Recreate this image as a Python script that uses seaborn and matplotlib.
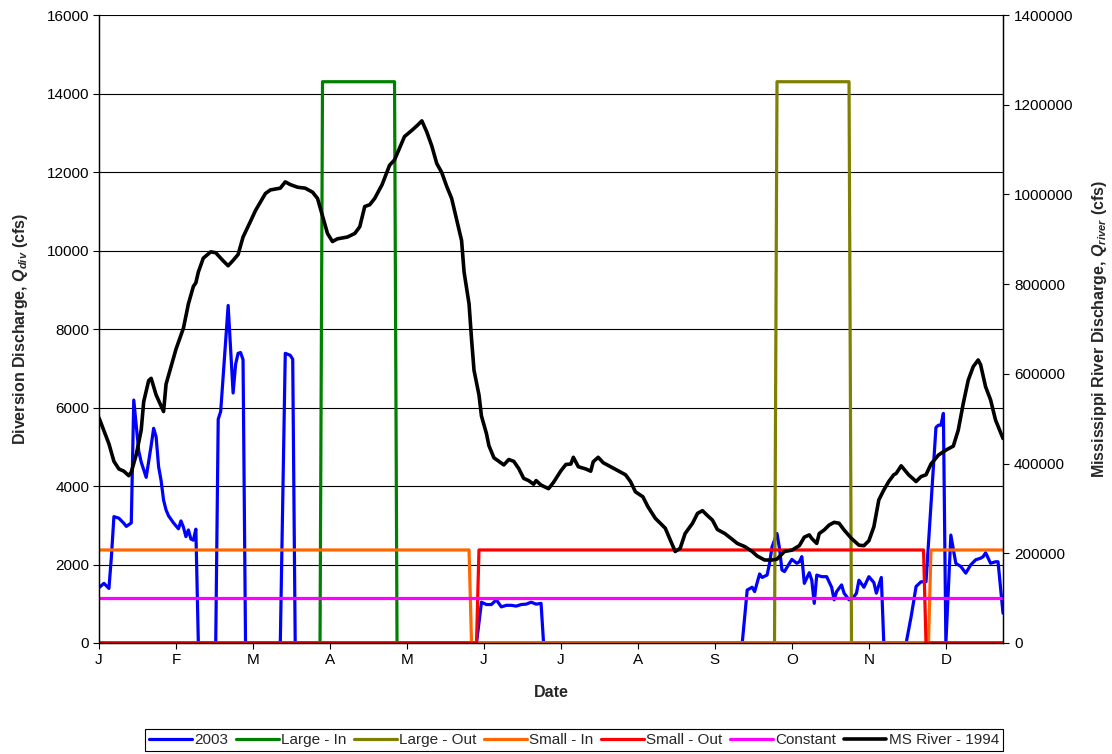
import numpy as np
import pandas as pd
import seaborn as sns
import matplotlib.pyplot as plt

# Month tick labels (ticks every 31 days on a 365-day axis)
month_labels = ["J", "F", "M", "A", "M", "J", "J", "A", "S", "O", "N", "D"]
month_days = [0, 31, 62, 93, 124, 155, 186, 217, 248, 279, 310, 341]

# 2003 diversion discharge (cfs)
days_2003 = [0, 2, 4, 5, 6, 8, 10, 11, 13, 14, 16, 17, 19, 21, 22, 23, 24, 25, 26, 27, 28, 30,
             32, 33, 34, 35, 36, 37, 38, 39, 40, 47, 48, 49, 52, 54, 55, 56, 57, 58, 59,
             73, 75, 77, 78, 79,
             152, 154, 156, 158, 160, 162, 164, 166, 168, 170, 172, 174, 176, 178, 179,
             259, 261, 263, 264, 266, 267, 269, 270, 271, 272, 273, 274, 275, 276, 278, 279,
             281, 282, 283, 284, 286, 287, 288, 289, 291, 293, 295, 296, 297, 299, 300, 302,
             304, 305, 306, 308, 310, 312, 313, 315, 316,
             325, 327, 328, 329, 331, 333, 337, 338, 339, 340, 341, 343, 345, 347, 349, 351,
             353, 355, 356, 357, 359, 361, 362, 364]
q_2003 = [1410, 1520, 1390, 2200, 3220, 3180, 3050, 2970, 3060, 6190, 4890, 4610, 4220, 5030,
          5470, 5250, 4490, 4140, 3640, 3390, 3240, 3060, 2910, 3110, 2950, 2710, 2880, 2650,
          2620, 2900, 0, 0, 5700, 5900, 8600, 6370, 7100, 7380, 7400, 7220, 0,
          0, 7380, 7330, 7230, 0,
          0, 1040, 980, 980, 1100, 920, 960, 960, 940, 980, 990, 1040, 990, 1010, 0,
          0, 1350, 1420, 1310, 1760, 1670, 1730, 2030, 2450, 2620, 2790, 2410, 1860, 1820,
          2030, 2130, 2030, 2070, 2200, 1520, 1790, 1600, 1010, 1730, 1690, 1690, 1420, 1100,
          1310, 1480, 1270, 1100, 1180, 1270, 1600, 1420, 1690, 1540, 1270, 1670, 0,
          0, 670, 1050, 1440, 1560, 1560, 5490, 5550, 5550, 5850, 0, 2750, 2030, 1950, 1780,
          1990, 2120, 2160, 2200, 2300, 2030, 2070, 2070, 760]

# Step-type operating scenarios (cfs)
large_in_days = [0, 89, 90, 119, 120, 364]
large_in_q = [0, 0, 14300, 14300, 0, 0]
large_out_days = [0, 272, 273, 302, 303, 364]
large_out_q = [0, 0, 14300, 14300, 0, 0]
small_in_days = [0, 149, 150, 334, 335, 364]
small_in_q = [2370, 2370, 0, 0, 2370, 2370]
small_out_days = [0, 152, 153, 332, 333, 364]
small_out_q = [0, 0, 2370, 2370, 0, 0]
constant_days = [0, 364]
constant_q = [1140, 1140]

# Mississippi River discharge 1994 (cfs, right axis)
river_days = [0, 4, 6, 8, 10, 12, 13, 15, 17, 18, 20, 21, 23, 26, 27, 29, 31, 34, 36, 38, 39,
              40, 42, 45, 47, 50, 52, 54, 56, 58, 61, 63, 67, 69, 73, 75, 77, 80, 83, 86, 88,
              90, 92, 94, 96, 100, 103, 105, 107, 109, 111, 114, 117, 119, 122, 123, 126, 128,
              130, 132, 134, 136, 138, 140, 142, 144, 146, 147, 149, 150, 151, 153, 154, 156,
              157, 159, 161, 163, 165, 167, 169, 171, 173, 175, 176, 178, 181, 183, 186, 188,
              190, 191, 193, 196, 198, 199, 201, 203, 206, 208, 212, 214, 216, 219, 221, 224,
              226, 228, 230, 232, 234, 236, 239, 241, 243, 245, 247, 249, 252, 255, 257, 260,
              263, 265, 268, 271, 273, 276, 279, 282, 284, 286, 287, 289, 290, 292, 294, 296,
              298, 300, 303, 306, 308, 310, 312, 314, 316, 318, 320, 321, 323, 326, 329, 331,
              333, 335, 338, 341, 344, 346, 348, 350, 352, 354, 355, 357, 359, 361, 364]
river_q = [502000, 444000, 405000, 388000, 383000, 373000, 381000, 420000, 475000, 538000,
           585000, 590000, 553000, 516000, 577000, 616000, 655000, 702000, 756000, 795000,
           803000, 827000, 858000, 872000, 870000, 852000, 841000, 853000, 866000, 905000,
           940000, 964000, 1002000, 1010000, 1014000, 1028000, 1022000, 1016000, 1014000,
           1005000, 991000, 952000, 913000, 895000, 901000, 905000, 913000, 928000, 973000,
           977000, 991000, 1022000, 1065000, 1077000, 1116000, 1129000, 1143000, 1153000,
           1164000, 1139000, 1108000, 1069000, 1049000, 1018000, 991000, 944000, 897000,
           827000, 756000, 678000, 608000, 553000, 506000, 467000, 440000, 413000, 405000,
           397000, 409000, 405000, 389000, 367000, 362000, 354000, 362000, 352000, 344000,
           358000, 384000, 398000, 399000, 414000, 393000, 388000, 383000, 404000, 414000,
           402000, 393000, 387000, 375000, 360000, 337000, 326000, 304000, 278000, 267000,
           256000, 230000, 204000, 211000, 244000, 267000, 289000, 295000, 284000, 274000,
           253000, 244000, 231000, 222000, 215000, 204000, 194000, 185000, 185000, 187000,
           204000, 207000, 217000, 236000, 241000, 233000, 222000, 244000, 252000, 263000,
           269000, 267000, 252000, 233000, 218000, 217000, 228000, 259000, 319000, 341000,
           360000, 375000, 378000, 395000, 375000, 360000, 371000, 375000, 399000, 419000,
           430000, 439000, 475000, 534000, 586000, 616000, 631000, 620000, 571000, 542000,
           497000, 456000]

sns.set_style("white")
plt.rcParams["font.family"] = ["Liberation Sans", "DejaVu Sans"]
plt.rcParams["mathtext.fontset"] = "custom"
plt.rcParams["mathtext.it"] = "Liberation Sans:italic:bold"
plt.rcParams["mathtext.rm"] = "Liberation Sans:bold"
plt.rcParams["mathtext.bf"] = "Liberation Sans:bold"

fig = plt.figure(figsize=(11.12, 7.54), dpi=100)
ax = fig.add_axes([99 / 1112, 111 / 754, 904 / 1112, 628 / 754])

lw = 2.3
series = [
    ("2003", days_2003, q_2003, "#0000FF"),
    ("Large - In", large_in_days, large_in_q, "#008000"),
    ("Large - Out", large_out_days, large_out_q, "#808000"),
    ("Small - In", small_in_days, small_in_q, "#FF6600"),
    ("Small - Out", small_out_days, small_out_q, "#FF0000"),
    ("Constant", constant_days, constant_q, "#FF00FF"),
]
for name, xd, yd, col in series:
    sns.lineplot(x=xd, y=yd, ax=ax, color=col, linewidth=lw, label=name,
                 sort=False, estimator=None)

ax2 = ax.twinx()
sns.lineplot(x=river_days, y=river_q, ax=ax2, color="black", linewidth=lw + 0.3,
             label="MS River - 1994", sort=False, estimator=None)

# axes ranges and ticks
ax.set_xlim(0, 364)
ax.set_ylim(0, 16000)
ax.set_yticks(np.arange(0, 16001, 2000))
ax.set_xticks(month_days)
ax.set_xticklabels(month_labels)
ax2.set_ylim(0, 1400000)
ax2.set_yticks(np.arange(0, 1400001, 200000))
ax2.set_yticklabels([str(v) for v in range(0, 1400001, 200000)])

ax.yaxis.grid(True, color="black", linewidth=0.8)
ax.set_axisbelow(True)

for a in (ax, ax2):
    a.spines["top"].set_visible(False)
    for s in ("left", "right", "bottom"):
        a.spines[s].set_color("black")
        a.spines[s].set_linewidth(0.9)
ax.tick_params(axis="both", which="major", direction="out", length=4, width=0.8,
               labelsize=11, colors="black", left=True, bottom=True, pad=3)
ax2.tick_params(axis="y", direction="out", length=4, width=0.8, labelsize=11,
                colors="black", right=True, pad=4)

ax.set_xlabel("Date", fontsize=11.5, fontweight="bold", labelpad=13)
ax.set_ylabel(r"Diversion Discharge, $Q_{div}$ (cfs)", fontsize=11.5, fontweight="bold",
              labelpad=12)
ax2.set_ylabel(r"Mississippi River Discharge, $Q_{river}$ (cfs)", fontsize=11.5,
               fontweight="bold", rotation=90, labelpad=12)

# combined legend below the chart
h1, l1 = ax.get_legend_handles_labels()
h2, l2 = ax2.get_legend_handles_labels()
ax.get_legend().remove()
ax2.get_legend().remove()
leg = fig.legend(h1 + h2, l1 + l2, loc="center", bbox_to_anchor=(574 / 1112, 1 - 740 / 754),
                 ncol=7, fontsize=11, frameon=True, fancybox=False, edgecolor="black",
                 framealpha=1, borderpad=0.25, handlelength=2.8, handletextpad=0.15,
                 columnspacing=0.5)
leg.get_frame().set_linewidth(0.8)

fig.savefig("out.png", dpi=100)
